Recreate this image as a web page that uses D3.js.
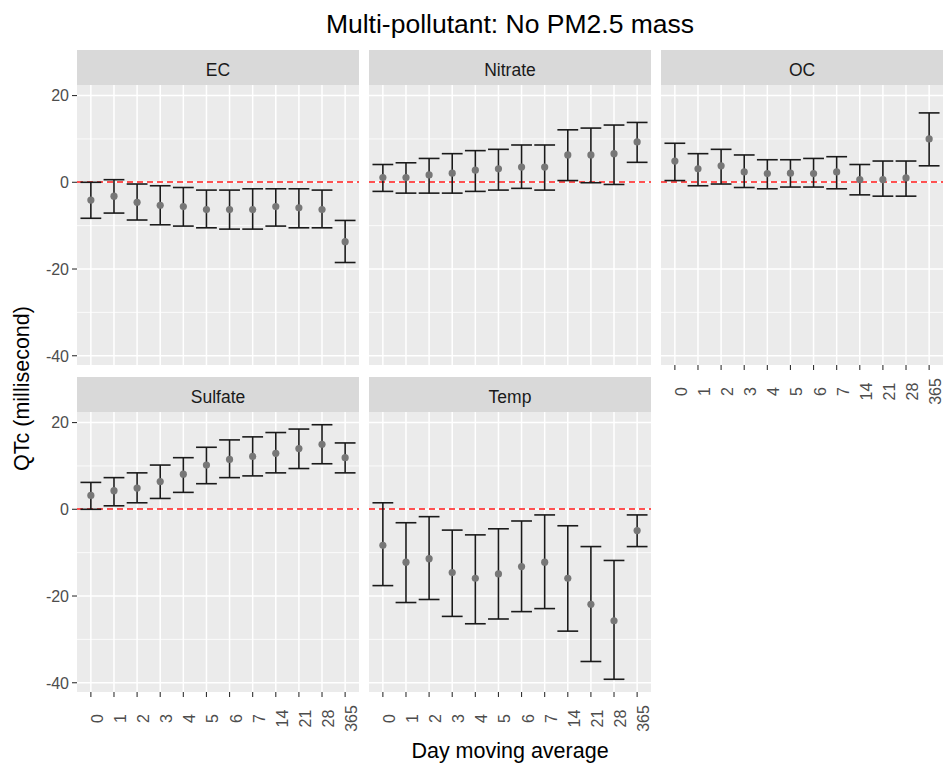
<!DOCTYPE html>
<html>
<head>
<meta charset="utf-8">
<script src="https://cdn.jsdelivr.net/npm/d3@7"></script>
<style>
  html, body { margin: 0; padding: 0; background: #ffffff; }
  svg { display: block; font-family: "Liberation Sans", Arial, sans-serif; }
</style>
</head>
<body>
<svg id="chart" width="946" height="763"></svg>
<script>
// Moving-average windows (days) on the x axis
const days = ["0", "1", "2", "3", "4", "5", "6", "7", "14", "21", "28", "365"];
const panelNames = ["EC", "Nitrate", "OC", "Sulfate", "Temp"];
const yTicks = [-40, -20, 0, 20];
const yMinor = [-30, -10, 10];

// Estimated QTc change (ms) with lower / upper confidence limits
const ecEst   = [-4.1, -3.2, -4.6, -5.3, -5.6, -6.3, -6.3, -6.3, -5.6, -5.9, -6.3, -13.7];
const ecLow   = [-8.3, -7.1, -8.7, -9.8, -10.1, -10.5, -10.8, -10.8, -10.1, -10.5, -10.5, -18.5];
const ecHigh  = [0.0, 0.6, -0.4, -0.8, -1.2, -1.8, -1.8, -1.5, -1.5, -1.5, -1.8, -8.8];

const no3Est  = [1.1, 1.1, 1.7, 2.1, 2.8, 3.1, 3.5, 3.5, 6.3, 6.3, 6.6, 9.3];
const no3Low  = [-2.1, -2.5, -2.5, -2.5, -2.1, -1.8, -1.4, -1.8, 0.4, -0.1, -0.5, 4.6];
const no3High = [4.1, 4.5, 5.5, 6.6, 7.3, 7.6, 8.6, 8.6, 12.1, 12.5, 13.2, 13.8];

const ocEst   = [4.9, 3.1, 3.8, 2.4, 2.0, 2.1, 2.0, 2.4, 0.6, 0.6, 1.0, 10.0];
const ocLow   = [0.4, -0.8, -0.4, -1.2, -1.5, -1.1, -1.1, -1.5, -2.9, -3.2, -3.2, 3.8];
const ocHigh  = [9.0, 6.6, 7.6, 6.3, 5.2, 5.2, 5.5, 5.9, 4.1, 4.9, 4.9, 16.0];

const so4Est  = [3.2, 4.3, 4.9, 6.4, 8.1, 10.2, 11.5, 12.2, 12.9, 14.0, 15.0, 11.9];
const so4Low  = [0.0, 0.8, 1.5, 2.5, 3.9, 5.9, 7.3, 7.7, 8.4, 9.4, 10.5, 8.4];
const so4High = [6.2, 7.3, 8.4, 10.2, 11.9, 14.3, 16.0, 16.7, 17.7, 18.5, 19.5, 15.3];

const tempEst  = [-8.3, -12.2, -11.4, -14.6, -15.9, -14.9, -13.2, -12.2, -15.9, -21.9, -25.7, -4.9];
const tempLow  = [-17.6, -21.5, -20.8, -24.7, -26.4, -25.3, -23.6, -22.9, -28.1, -35.1, -39.2, -8.6];
const tempHigh = [1.5, -3.1, -1.7, -4.8, -5.9, -4.5, -2.7, -1.3, -3.8, -8.6, -11.8, -1.3];

const estimates = [ecEst, no3Est, ocEst, so4Est, tempEst];
const lowers = [ecLow, no3Low, ocLow, so4Low, tempLow];
const uppers = [ecHigh, no3High, ocHigh, so4High, tempHigh];

// Facet layout
const left = 77, panelW = 282, colGap = 10;
const stripTop = [50, 377], stripH = 35, panelH = 280;
const ncol = 3;

const svg = d3.select("#chart");

// Shared y scale, expanded 5% beyond the data range
const allVals = lowers.flat().concat(uppers.flat());
const yLo = d3.min(allVals), yHi = d3.max(allVals);
const pad = (yHi - yLo) * 0.05;
const y = d3.scaleLinear().domain([yLo - pad, yHi + pad]).range([panelH, 0]);

const x = d3.scalePoint().domain(days).range([0, panelW]).padding(0.6);
const step = x.step();

const tickFont = 16;

panelNames.forEach((name, i) => {
  const col = i % ncol, row = Math.floor(i / ncol);
  const px = left + col * (panelW + colGap);
  const sy = stripTop[row];
  const py = sy + stripH;

  // strip
  svg.append("rect").attr("x", px).attr("y", sy).attr("width", panelW).attr("height", stripH)
    .attr("fill", "#d9d9d9");
  svg.append("text").attr("x", px + panelW / 2).attr("y", sy + 26)
    .attr("text-anchor", "middle").attr("font-size", 17.5).attr("fill", "#1a1a1a").text(name);

  const g = svg.append("g").attr("transform", `translate(${px},${py})`);
  g.append("rect").attr("width", panelW).attr("height", panelH).attr("fill", "#ebebeb");

  // grid
  g.selectAll(".ymin").data(yMinor).join("line")
    .attr("x1", 0).attr("x2", panelW).attr("y1", d => y(d)).attr("y2", d => y(d))
    .attr("stroke", "#ffffff").attr("stroke-width", 0.8);
  g.selectAll(".ymaj").data(yTicks).join("line")
    .attr("x1", 0).attr("x2", panelW).attr("y1", d => y(d)).attr("y2", d => y(d))
    .attr("stroke", "#ffffff").attr("stroke-width", 1.5);
  g.selectAll(".xmaj").data(days).join("line")
    .attr("x1", d => x(d)).attr("x2", d => x(d)).attr("y1", 0).attr("y2", panelH)
    .attr("stroke", "#ffffff").attr("stroke-width", 1.5);

  // reference line at zero
  const y0 = Math.round(y(0));
  g.append("line").attr("x1", 0).attr("x2", panelW).attr("y1", y0).attr("y2", y0)
    .attr("stroke", "#ff1a1a").attr("stroke-width", 1.6).attr("stroke-dasharray", "6,4");

  const rows = days.map((d, k) => ({ day: d, est: estimates[i][k], lo: lowers[i][k], hi: uppers[i][k] }));
  const cap = step * 0.9 / 2;

  const eb = g.selectAll(".eb").data(rows).join("g");
  eb.append("line").attr("x1", d => x(d.day)).attr("x2", d => x(d.day))
    .attr("y1", d => y(d.lo)).attr("y2", d => y(d.hi));
  eb.append("line").attr("x1", d => x(d.day) - cap).attr("x2", d => x(d.day) + cap)
    .attr("y1", d => y(d.lo)).attr("y2", d => y(d.lo));
  eb.append("line").attr("x1", d => x(d.day) - cap).attr("x2", d => x(d.day) + cap)
    .attr("y1", d => y(d.hi)).attr("y2", d => y(d.hi));
  eb.selectAll("line").attr("stroke", "#1a1a1a").attr("stroke-width", 1.6);

  g.selectAll(".pt").data(rows).join("circle")
    .attr("cx", d => x(d.day)).attr("cy", d => y(d.est)).attr("r", 3.6)
    .attr("fill", "#777777");

  // y axis on the first column
  if (col === 0) {
    const ya = svg.append("g").attr("transform", `translate(${px},${py})`);
    ya.selectAll("line").data(yTicks).join("line")
      .attr("x1", -5).attr("x2", 0).attr("y1", d => y(d)).attr("y2", d => y(d))
      .attr("stroke", "#333333").attr("stroke-width", 1.1);
    ya.selectAll("text").data(yTicks).join("text")
      .attr("x", -8).attr("y", d => y(d)).attr("dy", "0.36em")
      .attr("text-anchor", "end").attr("font-size", tickFont).attr("fill", "#4d4d4d")
      .text(d => d);
  }

  // x axis on panels with nothing beneath them
  const below = i + ncol;
  if (below >= panelNames.length) {
    const xa = svg.append("g").attr("transform", `translate(${px},${py + panelH})`);
    xa.selectAll("line").data(days).join("line")
      .attr("x1", d => x(d)).attr("x2", d => x(d)).attr("y1", 0).attr("y2", 5)
      .attr("stroke", "#333333").attr("stroke-width", 1.1);
    xa.selectAll("text").data(days).join("text")
      .attr("transform", d => `translate(${x(d) + 12},${26.5}) rotate(-90)`)
      .attr("text-anchor", "middle").attr("font-size", tickFont).attr("fill", "#4d4d4d")
      .text(d => d);
  }
});

// titles
const plotCx = left + (ncol * panelW + (ncol - 1) * colGap) / 2;
svg.append("text").attr("x", plotCx).attr("y", 33).attr("text-anchor", "middle")
  .attr("font-size", 26.5).attr("fill", "#000000").text("Multi-pollutant: No PM2.5 mass");
svg.append("text").attr("x", plotCx).attr("y", 758).attr("text-anchor", "middle")
  .attr("font-size", 21.5).attr("fill", "#000000").text("Day moving average");
svg.append("text")
  .attr("transform", `translate(29,${(stripTop[0] + stripH + stripTop[1] + stripH + panelH) / 2}) rotate(-90)`)
  .attr("text-anchor", "middle").attr("font-size", 21.5).attr("fill", "#000000")
  .text("QTc (millisecond)");
</script>
</body>
</html>
